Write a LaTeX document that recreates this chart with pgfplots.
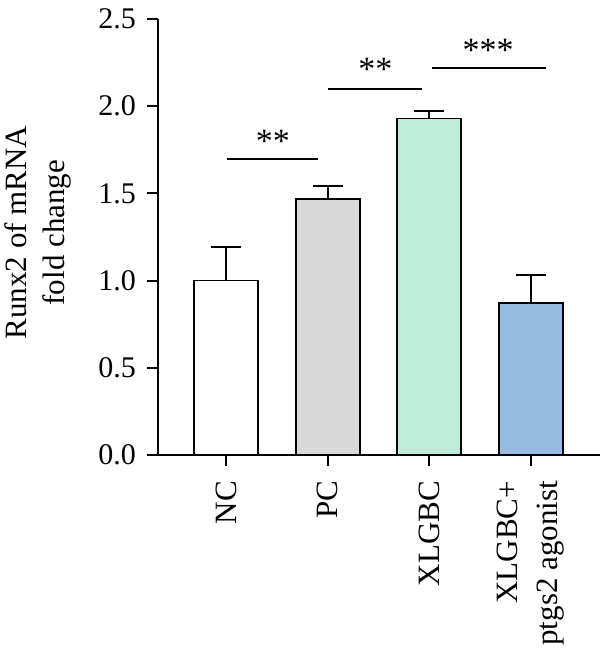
\documentclass[border=0pt]{standalone}
\usepackage{pgfplots}
\pgfplotsset{compat=1.18}
\usepackage{fontspec}
\setmainfont{Liberation Serif}
\definecolor{grayfill}{RGB}{217,217,217}
\definecolor{mint}{RGB}{190,236,216}
\definecolor{bluefill}{RGB}{152,185,224}
\begin{document}
\begin{tikzpicture}
\begin{axis}[
  scale only axis,
  width=221pt, height=218pt,
  xmin=-0.67, xmax=3.68,
  ymin=0, ymax=2.5,
  axis x line=bottom, axis y line=left,
  axis line style={line width=1pt,-},
  every tick/.style={line width=1pt,black},
  tick align=outside,
  major tick length=5.5pt,
  xtick={0,1,2,3},
  xticklabels={NC,PC,XLGBC,{XLGBC+\\ptgs2 agonist}},
  xticklabel style={rotate=90, anchor=east, align=right, xshift=-4pt, font=\fontsize{15.5}{20}\selectfont},
  ytick={0,0.5,1,1.5,2,2.5},
  yticklabel style={xshift=-2pt, font=\fontsize{15}{18}\selectfont},
  /pgf/number format/assume math mode=true,
  /pgf/number format/.cd, fixed, fixed zerofill, precision=1, /pgfplots/.cd,
  ylabel={Runx2 of mRNA\\fold change},
  ylabel style={at={(axis description cs:-0.272,0.51)}, anchor=center, align=center, font=\fontsize{15.5}{19}\selectfont},
  clip=false,
  bar width=0.63,
]
\addplot[ybar, bar shift=0pt, fill=white, draw=black, line width=0.9pt,
  error bars/.cd, y dir=plus, y explicit, error bar style={line width=1pt,black},
  error mark options={rotate=90, mark size=7.5pt, line width=1pt, black}]
  coordinates {(0,1.00) +- (0,0.19)};
\addplot[ybar, bar shift=0pt, fill=grayfill, draw=black, line width=0.9pt,
  error bars/.cd, y dir=plus, y explicit, error bar style={line width=1pt,black},
  error mark options={rotate=90, mark size=7.5pt, line width=1pt, black}]
  coordinates {(1,1.47) +- (0,0.07)};
\addplot[ybar, bar shift=0pt, fill=mint, draw=black, line width=0.9pt,
  error bars/.cd, y dir=plus, y explicit, error bar style={line width=1pt,black},
  error mark options={rotate=90, mark size=7.5pt, line width=1pt, black}]
  coordinates {(2,1.93) +- (0,0.04)};
\addplot[ybar, bar shift=0pt, fill=bluefill, draw=black, line width=0.9pt,
  error bars/.cd, y dir=plus, y explicit, error bar style={line width=1pt,black},
  error mark options={rotate=90, mark size=7.5pt, line width=1pt, black}]
  coordinates {(3,0.87) +- (0,0.16)};
\draw[line width=1pt] (axis cs:0.01,1.70) -- (axis cs:0.90,1.70);
\node[font=\fontsize{17}{17}\selectfont] at (axis cs:0.46,1.80) {**};
\draw[line width=1pt] (axis cs:1.00,2.10) -- (axis cs:1.93,2.10);
\node[font=\fontsize{17}{17}\selectfont] at (axis cs:1.47,2.21) {**};
\draw[line width=1pt] (axis cs:2.03,2.22) -- (axis cs:3.15,2.22);
\node[font=\fontsize{17}{17}\selectfont] at (axis cs:2.58,2.32) {***};
\coordinate (bl) at (rel axis cs:0,0);
\coordinate (tr) at (rel axis cs:1,1);
\end{axis}
\pgfresetboundingbox
\path[use as bounding box] ([shift={(-79pt,-98.5pt)}]bl) rectangle ([shift={(0pt,9.5pt)}]tr);
\end{tikzpicture}
\end{document}
